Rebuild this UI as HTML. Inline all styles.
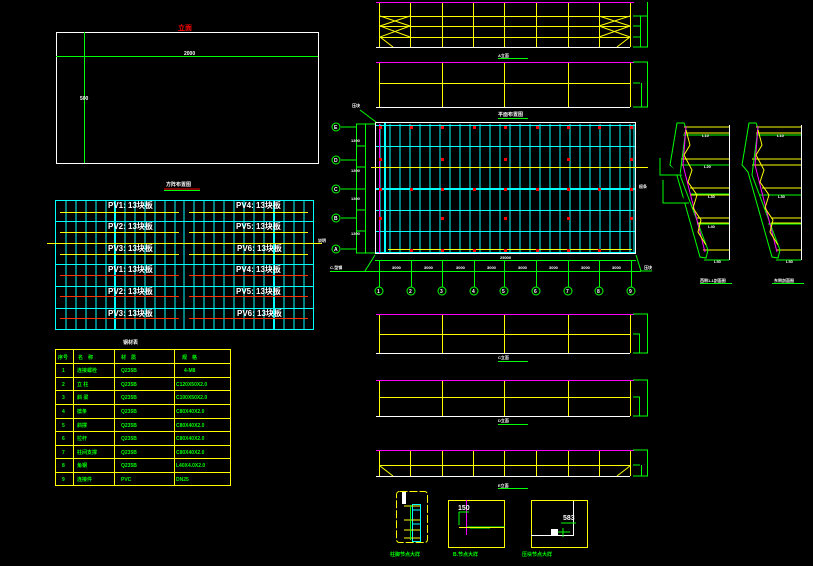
<!DOCTYPE html>
<html><head><meta charset="utf-8"><style>
html,body{margin:0;padding:0;background:#000;}
svg{display:block;}
text{font-family:"Liberation Sans","Noto Sans CJK SC",sans-serif;font-weight:bold;}
</style></head><body>
<svg width="813" height="566" viewBox="0 0 813 566" xmlns="http://www.w3.org/2000/svg">
<rect width="813" height="566" fill="#000"/>

<!-- top-left elevation frame -->
<rect x="56.5" y="32.5" width="262" height="131" fill="none" stroke="#fff" stroke-width="1"/>
<line x1="56" y1="56.5" x2="318" y2="56.5" stroke="#0f0"/>
<line x1="84.5" y1="32" x2="84.5" y2="163" stroke="#0f0"/>
<text x="178" y="30" fill="#f00" font-size="7">立面</text>
<text x="184" y="55" fill="#fff" font-size="5">2000</text>
<text x="80" y="100" fill="#fff" font-size="5">500</text>

<!-- layout grid -->
<text x="166" y="186" fill="#fff" font-size="5">方阵布置图</text>
<line x1="164" y1="189" x2="200" y2="189" stroke="#f00"/>
<line x1="164" y1="190.5" x2="200" y2="190.5" stroke="#0f0"/>
<rect x="55.5" y="200.5" width="258" height="129" fill="none" stroke="#0ff"/>
<path d="M66 200V330M76 200V330M86 200V330M96 200V330M106 200V330M125 200V330M135 200V330M145 200V330M155 200V330M165 200V330M175 200V330M184 200V330M194 200V330M204 200V330M214 200V330M224 200V330M234 200V330M244 200V330M254 200V330M264 200V330M284 200V330M294 200V330M304 200V330" stroke="#0ff" stroke-width="1"/>
<path d="M115 200V330M274 200V330" stroke="#0ff" stroke-width="2"/>
<path d="M55 221.5H313M55 264.5H313M55 286.5H313M55 308.5H313" stroke="#0ff"/>
<path d="M60 212.5H179M189 212.5H308M60 232.5H179M189 232.5H308M60 254.5H179M189 254.5H308" stroke="#ff0"/>
<path d="M60 275.5H179M189 275.5H308M60 296.5H179M189 296.5H308M60 318.5H179M189 318.5H308" stroke="#f30"/>
<line x1="47" y1="243.5" x2="322" y2="243.5" stroke="#ff0"/>
<g fill="#fff" font-size="8">
<text x="108" y="208">PV1: 13块板</text>
<text x="108" y="229">PV2: 13块板</text>
<text x="108" y="251">PV3: 13块板</text>
<text x="108" y="272">PV1: 13块板</text>
<text x="108" y="294">PV2: 13块板</text>
<text x="108" y="316">PV3: 13块板</text>
<text x="236" y="208">PV4: 13块板</text>
<text x="236" y="229">PV5: 13块板</text>
<text x="237" y="251">PV6: 13块板</text>
<text x="236" y="272">PV4: 13块板</text>
<text x="236" y="294">PV5: 13块板</text>
<text x="237" y="316">PV6: 13块板</text>
</g>
<text x="318" y="242" fill="#fff" font-size="4">说明</text>

<!-- table -->
<text x="123" y="344" fill="#fff" font-size="5">钢材表</text>
<g stroke="#ff0" fill="none">
<rect x="55.5" y="349.5" width="175" height="136"/>
<path d="M55 363.5H231M55 377.5H231M55 390.5H231M55 404.5H231M55 418.5H231M55 431.5H231M55 445.5H231M55 458.5H231M55 472.5H231"/>
<path d="M73.5 349V486M114.5 349V486M174.5 349V486"/>
</g>
<g fill="#0f0" font-size="5">
<text x="58" y="359">序号</text><text x="78" y="359">名　称</text><text x="121" y="359">材　质</text><text x="182" y="359">规　格</text>
<text x="62" y="372">1</text><text x="77" y="372">连接螺栓</text><text x="121" y="372">Q235B</text><text x="184" y="372">4-M8</text>
<text x="62" y="386">2</text><text x="77" y="386">立 柱</text><text x="121" y="386">Q235B</text><text x="176" y="386">C120X50X2.0</text>
<text x="62" y="399">3</text><text x="77" y="399">斜 梁</text><text x="121" y="399">Q235B</text><text x="176" y="399">C100X50X2.0</text>
<text x="62" y="413">4</text><text x="77" y="413">檩条</text><text x="121" y="413">Q235B</text><text x="176" y="413">C80X40X2.0</text>
<text x="62" y="427">5</text><text x="77" y="427">斜撑</text><text x="121" y="427">Q235B</text><text x="176" y="427">C80X40X2.0</text>
<text x="62" y="440">6</text><text x="77" y="440">拉杆</text><text x="121" y="440">Q235B</text><text x="176" y="440">C80X40X2.0</text>
<text x="62" y="454">7</text><text x="77" y="454">柱间支撑</text><text x="121" y="454">Q235B</text><text x="176" y="454">C80X40X2.0</text>
<text x="62" y="467">8</text><text x="77" y="467">角钢</text><text x="121" y="467">Q235B</text><text x="176" y="467">L40X4.0X2.0</text>
<text x="62" y="481">9</text><text x="77" y="481">连接件</text><text x="121" y="481">PVC</text><text x="176" y="481">DN25</text>
</g>

<!-- top elevation 1 -->
<line x1="376" y1="2.5" x2="634" y2="2.5" stroke="#f0f"/>
<line x1="376" y1="47.5" x2="630" y2="47.5" stroke="#fff"/>
<path d="M379.5 3V47M410.5 3V47M442.5 3V47M473.5 3V47M504.5 3V47M536.5 3V47M568.5 3V47M599.5 3V47M630.5 3V47" stroke="#ff0"/>
<path d="M379 16.5H630M379 26.5H630M379 37.5H630" stroke="#ff0"/>
<path d="M380 16L410 26M410 16L380 26M380 26L410 37M410 26L380 37M380 37L393 47M599 16L630 26M630 16L599 26M599 26L630 37M630 26L599 37M630 37L617 47" stroke="#ff0"/>
<path d="M633 16H648M633 26H640M633 37H640M633 47H648M647.5 2V47M640.5 16V47" stroke="#0f0"/>
<text x="498" y="57" fill="#fff" font-size="4">A立面</text>
<line x1="498" y1="58.5" x2="528" y2="58.5" stroke="#0f0"/>
<!-- top elevation 2 -->
<line x1="376" y1="62.5" x2="634" y2="62.5" stroke="#f0f"/>
<line x1="376" y1="107.5" x2="630" y2="107.5" stroke="#fff"/>
<path d="M379.5 63V107M442.5 63V107M504.5 63V107M568.5 63V107M630.5 63V107" stroke="#ff0"/>
<line x1="379" y1="83.5" x2="630" y2="83.5" stroke="#ff0"/>
<path d="M633 62H648M633 83H640M633 107H648M647.5 62V107M641.5 83V107" stroke="#0f0"/>

<!-- plan -->
<rect x="375.5" y="122.5" width="260" height="131" fill="none" stroke="#fff"/>
<path d="M380 124V253M390 124V253M400 124V253M410 124V253M420 124V253M430 124V253M440 124V253M450 124V253M460 124V253M470 124V253M480 124V253M490 124V253M500 124V253M510 124V253M520 124V253M530 124V253M540 124V253M550 124V253M560 124V253M570 124V253M580 124V253M590 124V253M600 124V253M610 124V253M620 124V253M630 124V253M634 124V253" stroke="#0ff"/>
<path d="M376 125.5H635M376 146.5H635M376 210.5H635M376 231.5H635M376 252.5H635" stroke="#0ff"/>
<path d="M376 189H635M385 123V253" stroke="#0ff" stroke-width="2"/>
<line x1="379.5" y1="124" x2="379.5" y2="253" stroke="#f0f"/>
<line x1="371" y1="167.5" x2="648" y2="167.5" stroke="#ff0"/>
<line x1="388" y1="249.5" x2="632" y2="249.5" stroke="#ff0"/>
<g fill="#f00">
<rect x="379" y="126" width="3" height="3"/><rect x="410" y="126" width="3" height="3"/><rect x="441" y="126" width="3" height="3"/><rect x="473" y="126" width="3" height="3"/><rect x="504" y="126" width="3" height="3"/><rect x="536" y="126" width="3" height="3"/><rect x="567" y="126" width="3" height="3"/><rect x="598" y="126" width="3" height="3"/><rect x="630" y="126" width="3" height="3"/>
<rect x="379" y="158" width="3" height="3"/><rect x="441" y="158" width="3" height="3"/><rect x="504" y="158" width="3" height="3"/><rect x="567" y="158" width="3" height="3"/><rect x="630" y="158" width="3" height="3"/>
<rect x="379" y="188" width="3" height="3"/><rect x="410" y="188" width="3" height="3"/><rect x="441" y="188" width="3" height="3"/><rect x="473" y="188" width="3" height="3"/><rect x="504" y="188" width="3" height="3"/><rect x="536" y="188" width="3" height="3"/><rect x="567" y="188" width="3" height="3"/><rect x="598" y="188" width="3" height="3"/><rect x="630" y="188" width="3" height="3"/>
<rect x="379" y="217" width="3" height="3"/><rect x="441" y="217" width="3" height="3"/><rect x="504" y="217" width="3" height="3"/><rect x="567" y="217" width="3" height="3"/><rect x="630" y="217" width="3" height="3"/>
<rect x="410" y="249" width="3" height="3"/><rect x="441" y="249" width="3" height="3"/><rect x="473" y="249" width="3" height="3"/><rect x="504" y="249" width="3" height="3"/><rect x="536" y="249" width="3" height="3"/><rect x="567" y="249" width="3" height="3"/><rect x="598" y="249" width="3" height="3"/>
</g>
<text x="498" y="116" fill="#fff" font-size="5">平面布置图</text>
<line x1="498" y1="118.5" x2="528" y2="118.5" stroke="#0f0"/>
<text x="639" y="188" fill="#fff" font-size="4">檩条</text>
<!-- left dims and axes -->
<path d="M356.5 124V253M365.5 124V253M356 124H375M356 253H375M356 146H365M356 167H365M356 189H365M356 210H365M356 231H365" stroke="#0f0"/>
<path d="M341 127H356M341 160H356M341 189H356M341 218H356M341 249H356" stroke="#0f0"/>
<g fill="none" stroke="#0f0"><circle cx="336" cy="127" r="4"/><circle cx="336" cy="160" r="4"/><circle cx="336" cy="189" r="4"/><circle cx="336" cy="218" r="4"/><circle cx="336" cy="249" r="4"/></g>
<g fill="#fff" font-size="5"><text x="334" y="129">E</text><text x="334" y="162">D</text><text x="334" y="191">C</text><text x="334" y="220">B</text><text x="334" y="251">A</text></g>
<g fill="#fff" font-size="4"><text x="351" y="142">1300</text><text x="351" y="172">1300</text><text x="351" y="200">1300</text><text x="351" y="235">1300</text></g>
<line x1="360" y1="110" x2="376" y2="122" stroke="#0f0"/>
<text x="352" y="107" fill="#fff" font-size="4">压块</text>
<!-- bottom dims/axes -->
<path d="M375 260.5H636M365 271.5H641M330 271.5H365M365 271L375 255M641 271L636 255M641 271H652" stroke="#0f0"/>
<path d="M379.5 260V287M411.5 260V287M442.5 260V287M474.5 260V287M504.5 260V287M536.5 260V287M568.5 260V287M599.5 260V287M631.5 260V287" stroke="#0f0"/>
<g fill="none" stroke="#0f0"><circle cx="379" cy="291" r="4"/><circle cx="411" cy="291" r="4"/><circle cx="442" cy="291" r="4"/><circle cx="474" cy="291" r="4"/><circle cx="504" cy="291" r="4"/><circle cx="536" cy="291" r="4"/><circle cx="568" cy="291" r="4"/><circle cx="599" cy="291" r="4"/><circle cx="631" cy="291" r="4"/></g>
<g fill="#fff" font-size="5"><text x="377" y="293">1</text><text x="409" y="293">2</text><text x="440" y="293">3</text><text x="472" y="293">4</text><text x="502" y="293">5</text><text x="534" y="293">6</text><text x="566" y="293">7</text><text x="597" y="293">8</text><text x="629" y="293">9</text></g>
<g fill="#fff" font-size="4"><text x="392" y="269">3000</text><text x="424" y="269">3000</text><text x="456" y="269">3000</text><text x="487" y="269">3000</text><text x="518" y="269">3000</text><text x="549" y="269">3000</text><text x="581" y="269">3000</text><text x="612" y="269">3000</text><text x="500" y="259">25000</text></g>
<text x="330" y="269" fill="#fff" font-size="4">C-型钢</text>
<text x="644" y="269" fill="#fff" font-size="4">压块</text>

<!-- bottom elevation 3 -->
<line x1="376" y1="314.5" x2="634" y2="314.5" stroke="#f0f"/>
<line x1="376" y1="353.5" x2="630" y2="353.5" stroke="#fff"/>
<path d="M379.5 315V353M442.5 315V353M504.5 315V353M568.5 315V353M630.5 315V353" stroke="#ff0"/>
<line x1="379" y1="334.5" x2="630" y2="334.5" stroke="#ff0"/>
<path d="M633 314H648M633 334H640M633 353H648M647.5 314V353M639.5 334V353" stroke="#0f0"/>
<text x="498" y="359" fill="#fff" font-size="4">C立面</text>
<line x1="498" y1="361.5" x2="528" y2="361.5" stroke="#0f0"/>
<!-- elevation 4 -->
<line x1="376" y1="380.5" x2="634" y2="380.5" stroke="#f0f"/>
<line x1="376" y1="416.5" x2="630" y2="416.5" stroke="#fff"/>
<path d="M379.5 381V416M442.5 381V416M504.5 381V416M568.5 381V416M630.5 381V416" stroke="#ff0"/>
<line x1="379" y1="397.5" x2="630" y2="397.5" stroke="#ff0"/>
<path d="M633 380H648M633 397H640M633 416H648M647.5 380V416M639.5 397V416" stroke="#0f0"/>
<text x="498" y="422" fill="#fff" font-size="4">D立面</text>
<line x1="498" y1="424.5" x2="528" y2="424.5" stroke="#0f0"/>
<!-- elevation 5 -->
<line x1="376" y1="450.5" x2="634" y2="450.5" stroke="#f0f"/>
<line x1="376" y1="476.5" x2="630" y2="476.5" stroke="#fff"/>
<path d="M379.5 451V476M410.5 451V476M442.5 451V476M473.5 451V476M504.5 451V476M536.5 451V476M568.5 451V476M599.5 451V476M630.5 451V476" stroke="#ff0"/>
<line x1="379" y1="465.5" x2="630" y2="465.5" stroke="#ff0"/>
<path d="M380 466L393 476M630 466L617 476" stroke="#ff0"/>
<path d="M633 450H648M633 465H640M633 476H648M647.5 450V476M641.5 465V476" stroke="#0f0"/>
<text x="498" y="487" fill="#fff" font-size="4">E立面</text>
<line x1="498" y1="488.5" x2="528" y2="488.5" stroke="#0f0"/>

<!-- details -->
<rect x="396.5" y="491.5" width="31" height="51" rx="3" fill="none" stroke="#ff0" stroke-dasharray="8 2"/>
<rect x="412.5" y="504.5" width="8" height="37" fill="none" stroke="#0ff"/>
<path d="M412 510H421M412 524H421" stroke="#0ff"/>
<path d="M404 506H420M404 520H420M404 530H420M404 538H420" stroke="#ff0"/>
<line x1="410.5" y1="505" x2="410.5" y2="540" stroke="#0f0"/>
<rect x="402" y="492" width="4" height="12" fill="#fff"/>
<rect x="448.5" y="500.5" width="56" height="47" fill="none" stroke="#ff0"/>
<line x1="466.5" y1="500" x2="466.5" y2="535" stroke="#f0f"/>
<path d="M459 512H469M459 512V525M467 527H505M470 528H490" stroke="#0f0"/>
<line x1="459" y1="527.5" x2="505" y2="527.5" stroke="#ff0"/>
<text x="458" y="510" fill="#fff" font-size="7">150</text>
<rect x="531.5" y="500.5" width="56" height="47" fill="none" stroke="#ff0"/>
<path d="M573.5 501V536M531 535.5H573" stroke="#fff"/>
<path d="M561 523H576M563 528V537M558 532H570" stroke="#0f0"/>
<rect x="551" y="529" width="7" height="6" fill="#fff"/>
<text x="563" y="520" fill="#fff" font-size="7">583</text>
<g fill="#0f0" font-size="5"><text x="390" y="556">柱脚节点大样</text><text x="453" y="556">B.节点大样</text><text x="522" y="556">压块节点大样</text></g>

<!-- right sections -->
<g>
<line x1="729.5" y1="125" x2="729.5" y2="260" stroke="#fff"/>
<path d="M684 127H729M684 133H729M681 159H729M681 165H729M690 188H729M690 195H729M697 218H729M697 223H729M703 250H729" stroke="#ff0"/>
<path d="M683 135H729M683 165H729M690 194H729M697 224H729M704 260H729" stroke="#0f0"/>
<path d="M677 123L684 123L686 128L680 175L708 250L706 258L700 257L676 172L670 165Z" fill="none" stroke="#0f0"/>
<path d="M686 126L683 165L705 252" fill="none" stroke="#f0f"/>
<path d="M686 130L690 145L684 155L692 170L688 182L697 195L693 208L701 220L698 232L706 245" fill="none" stroke="#ff0"/>
<path d="M660 158V175H682M663 180V203H689" stroke="#0f0"/>
<text x="702" y="137" fill="#fff" font-size="4">L10</text>
<text x="704" y="168" fill="#fff" font-size="4">L20</text>
<text x="708" y="198" fill="#fff" font-size="4">L30</text>
<text x="708" y="228" fill="#fff" font-size="4">L40</text>
<text x="714" y="263" fill="#fff" font-size="4">L50</text>
<text x="700" y="282" fill="#fff" font-size="4">西侧1-1剖面图</text>
<line x1="700" y1="283.5" x2="732" y2="283.5" stroke="#0f0"/>
</g>
<g>
<line x1="801.5" y1="125" x2="801.5" y2="260" stroke="#fff"/>
<path d="M756 127H801M756 133H801M752 159H801M752 165H801M762 188H801M762 195H801M771 218H801M771 223H801M776 250H801" stroke="#ff0"/>
<path d="M756 135H801M760 195H801M768 224H801M776 260H801" stroke="#0f0"/>
<path d="M749 123L756 123L758 128L752 175L780 250L778 258L772 257L748 172L742 165Z" fill="none" stroke="#0f0"/>
<path d="M758 126L755 165L777 252" fill="none" stroke="#f0f"/>
<path d="M758 130L762 145L756 155L764 170L760 182L769 195L765 208L773 220L770 232L778 245" fill="none" stroke="#ff0"/>
<text x="777" y="137" fill="#fff" font-size="4">L10</text>
<text x="778" y="198" fill="#fff" font-size="4">L30</text>
<text x="786" y="263" fill="#fff" font-size="4">L50</text>
<text x="774" y="282" fill="#fff" font-size="4">东侧剖面图</text>
<line x1="772" y1="283.5" x2="804" y2="283.5" stroke="#0f0"/>
</g>
</svg>
</body></html>
